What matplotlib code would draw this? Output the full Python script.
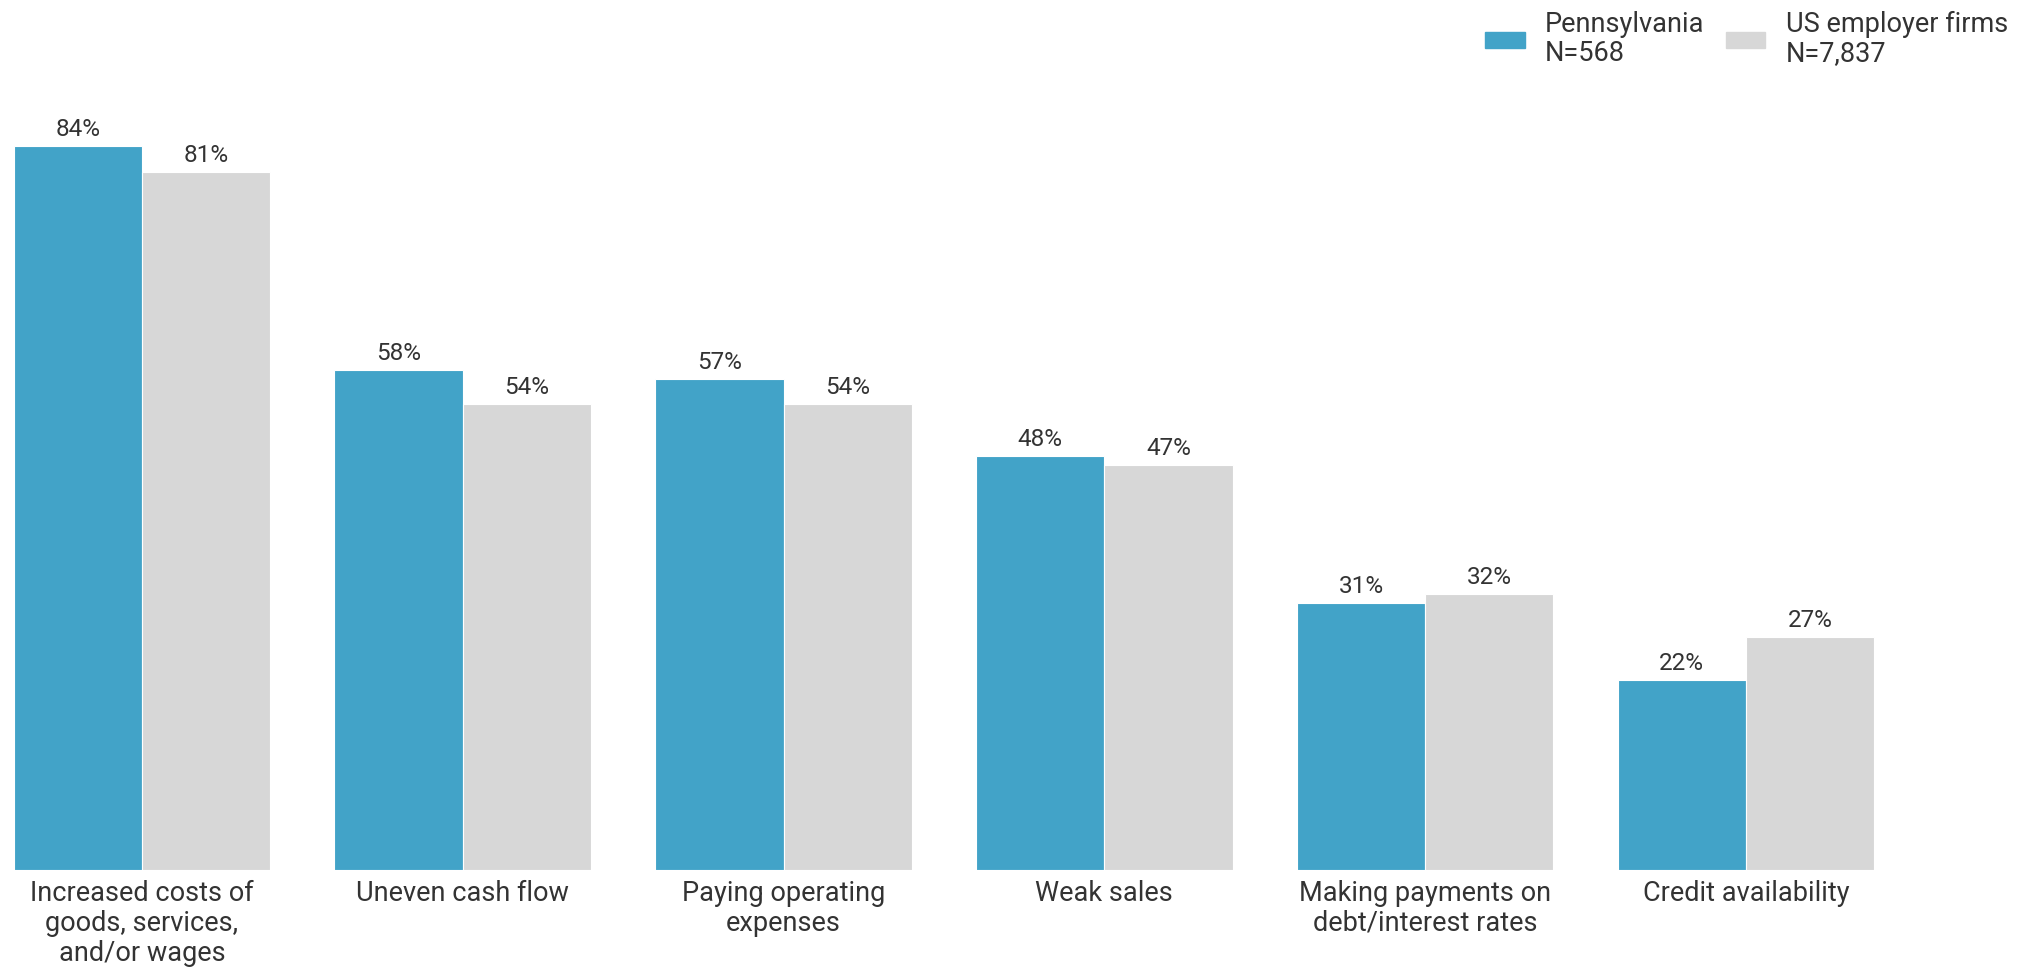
import numpy as np
import matplotlib.pyplot as plt
from matplotlib.patches import Patch

plt.rcParams['font.family'] = ['Roboto', 'DejaVu Sans']

categories = ['Increased costs of\ngoods, services,\nand/or wages', 'Uneven cash flow',
              'Paying operating\nexpenses', 'Weak sales',
              'Making payments on\ndebt/interest rates', 'Credit availability']
pa_vals = [84, 58, 57, 48, 31, 22]
us_vals = [81, 54, 54, 47, 32, 27]
series_names = ['Pennsylvania\nN=568', 'US employer firms\nN=7,837']

blue = '#42A3C8'
grey = '#D7D7D7'
txt = '#333333'

fig = plt.figure(figsize=(20.34, 9.68), dpi=100)
ax = fig.add_axes([0, 0.1012, 1, 0.8988])

x = np.arange(len(categories))
w = 0.4
b1 = ax.bar(x - w/2, pa_vals, w, color=blue, edgecolor='white', linewidth=0.8)
b2 = ax.bar(x + w/2, us_vals, w, color=grey, edgecolor='white', linewidth=0.8)

for bars, vals in [(b1, pa_vals), (b2, us_vals)]:
    for r, v in zip(bars, vals):
        ax.annotate(f'{v}%', (r.get_x() + r.get_width()/2, v), xytext=(0, 5),
                    textcoords='offset pixels', ha='center', va='bottom',
                    fontsize=17.5, color=txt)

ax.set_xlim(-0.4427, 5.898)
ax.set_ylim(0, 100.9)
ax.set_xticks(x)
ax.set_xticklabels(categories, fontsize=19.5, color=txt, linespacing=1.15)
ax.tick_params(axis='x', length=0, pad=7)
ax.set_yticks([])
for s in ax.spines.values():
    s.set_visible(False)

# legend top right, two columns
handles = [Patch(color=blue), Patch(color=grey)]
leg = fig.legend(handles, series_names, loc='upper right',
                 bbox_to_anchor=(2008/2034, 1 - 11/968),
                 ncol=2, frameon=False, fontsize=19.5, labelcolor=txt,
                 handlelength=1.45, handleheight=0.52, handletextpad=0.75,
                 columnspacing=0.8, borderaxespad=0, borderpad=0)
for t in leg.get_texts():
    t.set_linespacing(1.1)

fig.savefig('out.png', dpi=100)
